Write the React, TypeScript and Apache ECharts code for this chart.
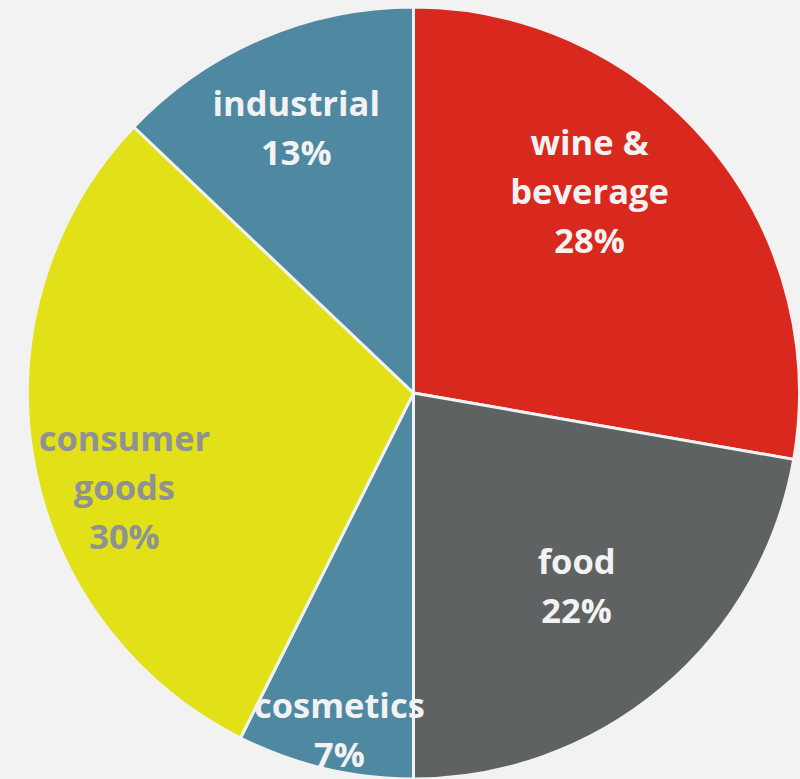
import React, { useEffect, useRef } from "react";
import * as echarts from "echarts";

const categories = ["wine &\nbeverage", "food", "cosmetics", "consumer\ngoods", "industrial"];
const values = [27.75, 22.25, 7.4, 29.7, 12.9];
const colors = ["#d9291e", "#5e6263", "#4f89a1", "#e2e017", "#4f89a1"];
const labelColors = ["#f2f2f2", "#f2f2f2", "#f2f2f2", "#8e9196", "#f2f2f2"];
const labelOffsets = [
  [26, -76],
  [37, 42],
  [-29, 145],
  [-96, 60],
  [-40, -86],
];

export default function App() {
  const ref = useRef<HTMLDivElement>(null);
  useEffect(() => {
    if (!ref.current) return;
    const chart = echarts.init(ref.current, null, { renderer: "svg" });
    chart.setOption({
      animation: false,
      backgroundColor: "#f2f2f2",
      series: [
        {
          type: "pie",
          center: [413.5, 393],
          radius: [0, 386],
          startAngle: 90,
          clockwise: true,
          avoidLabelOverlap: false,
          labelLine: { show: false },
          itemStyle: { borderColor: "#f2f2f2", borderWidth: 3 },
          label: {
            show: true,
            position: "inside",
            formatter: (p: any) => `${p.name}\n${Math.round(p.value)}%`,
            fontFamily: "Open Sans",
            fontWeight: "bold",
            fontSize: 34.5,
            lineHeight: 49,
            align: "center",
          },
          labelLayout: (p: any) => ({
            dx: labelOffsets[p.dataIndex][0],
            dy: labelOffsets[p.dataIndex][1],
          }),
          data: categories.map((name, i) => ({
            name,
            value: values[i],
            itemStyle: { color: colors[i] },
            label: { color: labelColors[i] },
          })),
        },
      ],
    });
    return () => chart.dispose();
  }, []);
  return (
    <div
      ref={ref}
      style={{ position: "fixed", left: 0, top: 0, width: 800, height: 779 }}
    />
  );
}
